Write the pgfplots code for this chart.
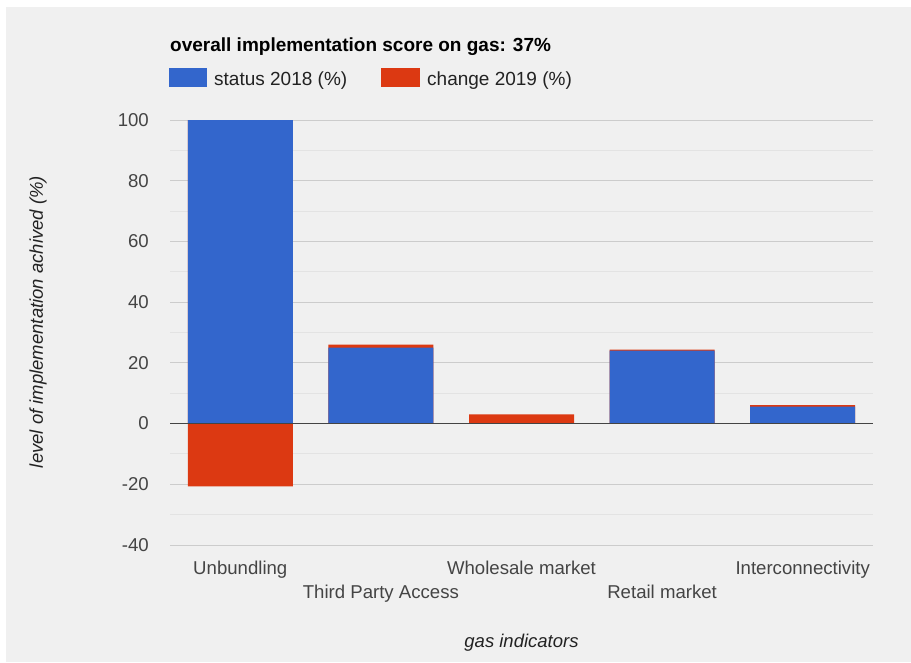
\documentclass[border=0pt]{standalone}
\usepackage{pgfplots}
\pgfplotsset{compat=1.18}
\usepackage{pgfplotstable}
\usepackage{fontspec}
\setmainfont{Liberation Sans}
\definecolor{gblue}{HTML}{3366CC}
\definecolor{gred}{HTML}{DC3912}
\definecolor{bg}{HTML}{F0F0F0}
\definecolor{gridmaj}{HTML}{CCCCCC}
\definecolor{gridmin}{HTML}{E3E3E3}
\definecolor{zeroline}{HTML}{444444}
\definecolor{ticktext}{HTML}{444444}
\definecolor{labtext}{HTML}{222222}
\pgfplotstableread{
x status change
0 100 -20.7
1 25 1
2 0 3
3 24 0.4
4 5.6 0.5
}\gasdata
\begin{document}
\begin{tikzpicture}[x=1pt,y=1pt]
\fill[white] (0pt,0pt) rectangle (911pt,-662pt);
\fill[bg] (6pt,-7pt) rectangle (911pt,-662pt);
\begin{axis}[
  at={(170pt,-545pt)}, anchor=south west,
  scale only axis, width=703pt, height=425pt,
  xmin=-0.5, xmax=4.5, ymin=-40, ymax=100,
  ybar, bar width=105pt, bar shift=0pt,
  axis line style={draw=none},
  ytick={-40,-20,0,20,40,60,80,100},
  yticklabels={-40,-20,0,20,40,60,80,100},
  minor ytick={-30,-10,10,30,50,70,90},
  ymajorgrids, yminorgrids,
  major grid style={color=gridmaj, line width=1pt},
  minor grid style={color=gridmin, line width=1pt},
  major tick length=0pt, minor tick length=0pt,
  xtick={0,2,4},
  xticklabels={Unbundling,Wholesale market,Interconnectivity},
  extra x ticks={1,3},
  extra x tick labels={Third Party Access,Retail market},
  extra x tick style={xticklabel style={yshift=-24pt}},
  xticklabel style={anchor=base, inner sep=0pt, yshift=-29.5pt, font=\fontsize{18.6}{22}\selectfont, text=ticktext},
  yticklabel style={anchor=east, inner sep=0pt, xshift=-21pt, font=\fontsize{18.6}{22}\selectfont, text=ticktext},
  clip=false,
]
\addplot[fill=gred, draw=none] table[x=x, y expr={\thisrow{status}+max(\thisrow{change},0)}] {\gasdata};
\addplot[fill=gblue, draw=none] table[x=x, y=status] {\gasdata};
\addplot[fill=gred, draw=none] table[x=x, y expr={min(\thisrow{change},0)}] {\gasdata};
\draw[color=zeroline, line width=1.5pt] (axis cs:-0.5,0) -- (axis cs:4.5,0);
\end{axis}
\node[anchor=base west, inner sep=0pt, font=\fontsize{19}{23}\selectfont\bfseries] at (170pt,-51pt) {overall implementation score on gas: 37\%};
\fill[gblue] (168.5pt,-68pt) rectangle (207pt,-87pt);
\node[anchor=base west, inner sep=0pt, text=labtext, font=\fontsize{19}{23}\selectfont] at (214pt,-85pt) {status 2018 (\%)};
\fill[gred] (381pt,-68pt) rectangle (420pt,-87pt);
\node[anchor=base west, inner sep=0pt, text=labtext, font=\fontsize{19}{23}\selectfont] at (427pt,-85pt) {change 2019 (\%)};
\node[rotate=90, inner sep=0pt, text=labtext, font=\fontsize{18.5}{22}\selectfont\itshape] at (38pt,-322pt) {level of implementation achived (\%)};
\node[anchor=base, inner sep=0pt, text=labtext, font=\fontsize{18.5}{22}\selectfont\itshape] at (521.5pt,-647pt) {gas indicators};
\end{tikzpicture}
\end{document}
